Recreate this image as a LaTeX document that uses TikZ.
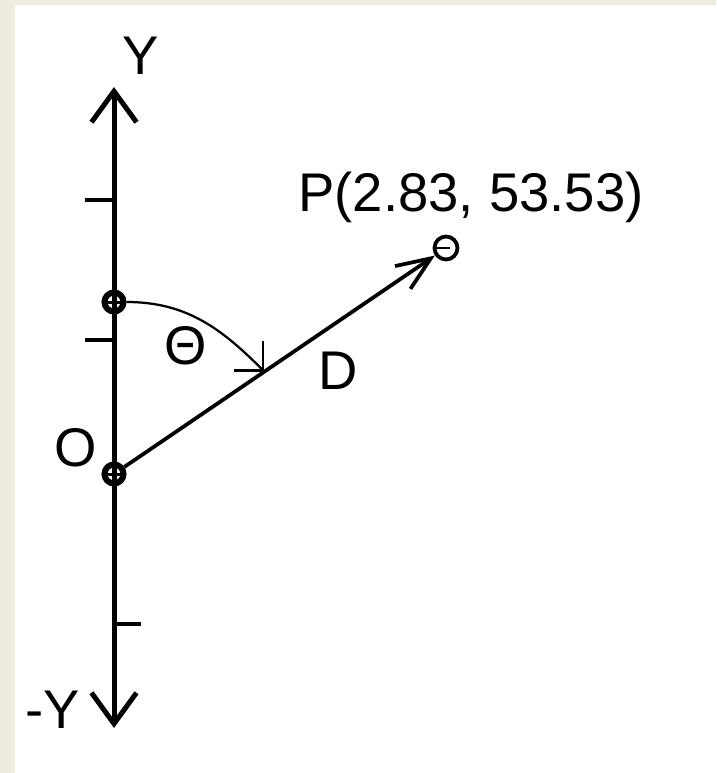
\documentclass[tikz,border=0pt]{standalone}
\usepackage{fontspec}
\setmainfont{Liberation Sans}
\usepackage{tikz}
\usetikzlibrary{positioning,arrows.meta,calc}
\definecolor{paper}{HTML}{EEEBE1}

\begin{document}
\begin{tikzpicture}[
  x=0.02cm, y=-0.02cm,
  axis/.style={line width=0.1cm},
  tick/.style={line width=0.065cm},
  pivot/.style={circle, draw, line width=0.12cm, minimum size=0.38cm, inner sep=0pt,
                path picture={\draw[line width=0.06cm]
                  (path picture bounding box.west) -- (path picture bounding box.east)
                  (path picture bounding box.north) -- (path picture bounding box.south);}},
  target/.style={circle, draw, line width=0.075cm, minimum size=0.46cm, inner sep=0pt,
                path picture={\draw[line width=0.06cm]
                  ($(path picture bounding box.center)+(-0.2cm,0)$) -- ($(path picture bounding box.center)+(0.08cm,0)$);}},
  lbl/.style={anchor=base, inner sep=0pt},
  font=\fontsize{31}{36}\selectfont
]
\useasboundingbox (0,0) rectangle (716,773);
\fill[paper] (0,0) rectangle (716,773);
\fill[white] (15,5) rectangle (716,773);

% Y axis
\coordinate (ytop) at (114,87);
\coordinate (ybot) at (114,728);
\draw[axis, {Straight Barb[length=0.62cm, width=0.9cm]}-{Straight Barb[length=0.62cm, width=0.9cm]}]
  (ybot) -- (ytop);
\draw[tick] (85,200) -- (114,200);
\draw[tick] (85,340) -- (114,340);
\draw[tick] (114,624) -- (141,624);

\node[pivot] (O) at (114,474) {};
\node[pivot] (A) at (114,302) {};
\node[target] (P) at (446,248) {};

% direction D and angle
\draw[line width=0.075cm, -{Straight Barb[length=0.68cm, width=0.55cm]}] (O) -- (P);
\coordinate (M) at ($(O)!0.453!(P)$);
\draw[line width=0.045cm, -{Straight Barb[length=0.42cm, width=0.84cm]}] (A.east) to[out=0, in=135] (M);

\node[lbl] (ylab) at (141,75) {Y};
\node[lbl] (nylab) at (53,728) {-Y};
\node[lbl] (olab) at (76,466) {O};
\node[lbl] (tlab) at (186,364) {Θ};
\node[lbl] (dlab) at (338,389) {D};
\node[lbl] (plab) at (471,212) {P(2.83, 53.53)};
\end{tikzpicture}
\end{document}
